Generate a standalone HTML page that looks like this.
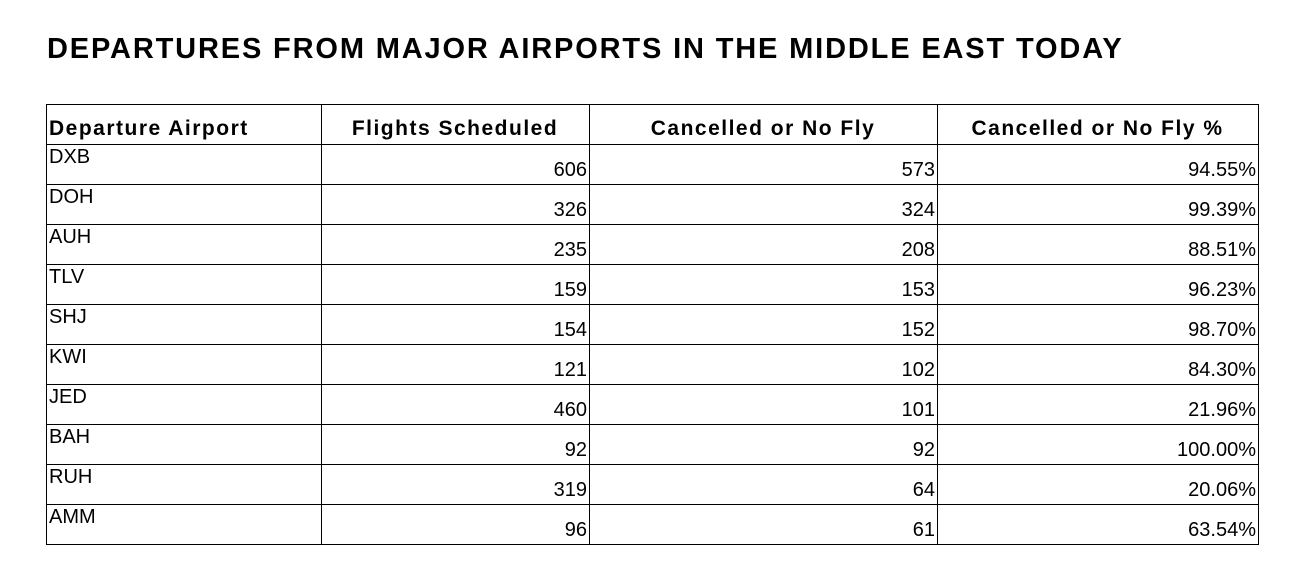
<!DOCTYPE html>
<html><head><style>
body{margin:0;width:1312px;height:574px;background:#fff;position:relative;font-family:"Liberation Sans",Arial,sans-serif;color:#000;overflow:hidden}
.t{position:absolute;left:47px;top:33px;font-size:29px;font-weight:bold;white-space:nowrap;letter-spacing:1.85px}
.h{position:absolute;top:116px;font-size:21px;font-weight:bold;white-space:nowrap;line-height:26px;letter-spacing:1.5px}
.c{position:absolute;font-size:20px;line-height:22px;white-space:nowrap}
.hl{position:absolute;left:46px;width:1212px;height:1px;background:#000}
.vl{position:absolute;top:104px;height:441px;width:1px;background:#000}
</style></head><body>
<div class="t">DEPARTURES FROM MAJOR AIRPORTS IN THE MIDDLE EAST TODAY</div>
<div class="hl" style="top:104px"></div>
<div class="hl" style="top:144px"></div>
<div class="hl" style="top:184px"></div>
<div class="hl" style="top:224px"></div>
<div class="hl" style="top:264px"></div>
<div class="hl" style="top:304px"></div>
<div class="hl" style="top:344px"></div>
<div class="hl" style="top:384px"></div>
<div class="hl" style="top:424px"></div>
<div class="hl" style="top:464px"></div>
<div class="hl" style="top:504px"></div>
<div class="hl" style="top:544px"></div>
<div class="vl" style="left:46px"></div>
<div class="vl" style="left:321px"></div>
<div class="vl" style="left:589px"></div>
<div class="vl" style="left:937px"></div>
<div class="vl" style="left:1258px"></div>
<div class="h" style="left:49px">Departure Airport</div>
<div class="h" style="left:321px;width:268px;text-align:center">Flights Scheduled</div>
<div class="h" style="left:589px;width:348px;text-align:center">Cancelled or No Fly</div>
<div class="h" style="left:937px;width:321px;text-align:center">Cancelled or No Fly %</div>
<div class="c" style="left:49px;top:146px">DXB</div><div class="c" style="right:725px;top:159px">606</div><div class="c" style="right:377px;top:159px">573</div><div class="c" style="right:56px;top:159px">94.55%</div>
<div class="c" style="left:49px;top:186px">DOH</div><div class="c" style="right:725px;top:199px">326</div><div class="c" style="right:377px;top:199px">324</div><div class="c" style="right:56px;top:199px">99.39%</div>
<div class="c" style="left:49px;top:226px">AUH</div><div class="c" style="right:725px;top:239px">235</div><div class="c" style="right:377px;top:239px">208</div><div class="c" style="right:56px;top:239px">88.51%</div>
<div class="c" style="left:49px;top:266px">TLV</div><div class="c" style="right:725px;top:279px">159</div><div class="c" style="right:377px;top:279px">153</div><div class="c" style="right:56px;top:279px">96.23%</div>
<div class="c" style="left:49px;top:306px">SHJ</div><div class="c" style="right:725px;top:319px">154</div><div class="c" style="right:377px;top:319px">152</div><div class="c" style="right:56px;top:319px">98.70%</div>
<div class="c" style="left:49px;top:346px">KWI</div><div class="c" style="right:725px;top:359px">121</div><div class="c" style="right:377px;top:359px">102</div><div class="c" style="right:56px;top:359px">84.30%</div>
<div class="c" style="left:49px;top:386px">JED</div><div class="c" style="right:725px;top:399px">460</div><div class="c" style="right:377px;top:399px">101</div><div class="c" style="right:56px;top:399px">21.96%</div>
<div class="c" style="left:49px;top:426px">BAH</div><div class="c" style="right:725px;top:439px">92</div><div class="c" style="right:377px;top:439px">92</div><div class="c" style="right:56px;top:439px">100.00%</div>
<div class="c" style="left:49px;top:466px">RUH</div><div class="c" style="right:725px;top:479px">319</div><div class="c" style="right:377px;top:479px">64</div><div class="c" style="right:56px;top:479px">20.06%</div>
<div class="c" style="left:49px;top:506px">AMM</div><div class="c" style="right:725px;top:519px">96</div><div class="c" style="right:377px;top:519px">61</div><div class="c" style="right:56px;top:519px">63.54%</div>
</body></html>
